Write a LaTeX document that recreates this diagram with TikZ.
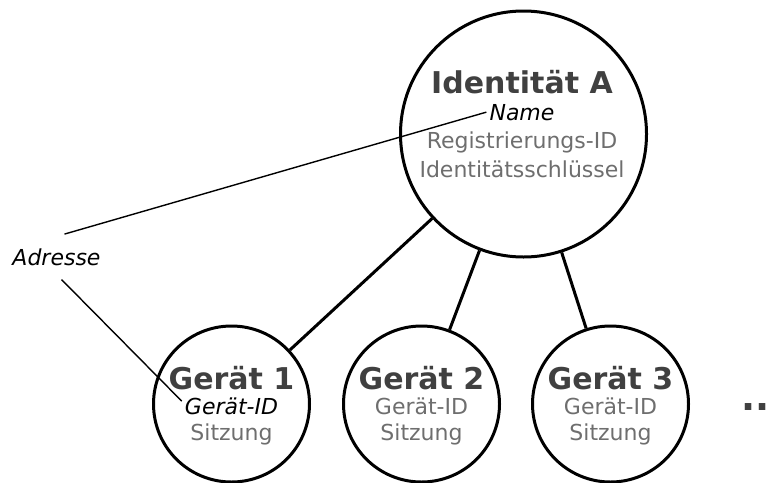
\documentclass[tikz,border=0pt]{standalone}
\usepackage{fontspec}
\setmainfont{DejaVu Sans}
\usetikzlibrary{calc}
\definecolor{titlegray}{HTML}{404040}
\definecolor{fieldgray}{HTML}{6E6E6E}
\begin{document}
\begin{tikzpicture}[x=1pt,y=-1pt,
  entity/.style={circle,draw=black,line width=3pt,inner sep=0pt,minimum size=#1},
  link/.style={line width=3pt},
  title/.style={anchor=base,inner sep=0pt,text=titlegray,font=\fontsize{30}{36}\selectfont\bfseries},
  field/.style={anchor=base,inner sep=0pt,text=fieldgray,font=\fontsize{22}{26}\selectfont},
  keyfield/.style={anchor=base,inner sep=3pt,text=black,font=\fontsize{22}{26}\selectfont\itshape},
  pointer/.style={line width=1.4pt}]
\useasboundingbox (0,0) rectangle (770,482);

% identity
\node[entity=246pt] (ida) at (523.5,134) {};
\node[title] (idaT) at (522,93) {Identität A};
\node[keyfield] (nm) at (522,120) {Name};
\node[field] (idaR) at (522,148) {Registrierungs-ID};
\node[field] (idaK) at (522,177) {Identitätsschlüssel};

% devices
\node[entity=156pt] (g1) at (231.5,404) {};
\node[entity=156pt] (g2) at (421.5,404) {};
\node[entity=156pt] (g3) at (610.5,404) {};

\node[title] (g1T) at (231.5,389) {Gerät 1};
\node[keyfield] (gid1) at (231.5,414) {Gerät-ID};
\node[field] (g1S) at (231.5,440) {Sitzung};

\node[title] (g2T) at (421.5,389) {Gerät 2};
\node[field] (gid2) at (421.5,414) {Gerät-ID};
\node[field] (g2S) at (421.5,440) {Sitzung};

\node[title] (g3T) at (610.5,389) {Gerät 3};
\node[field] (gid3) at (610.5,414) {Gerät-ID};
\node[field] (g3S) at (610.5,440) {Sitzung};

\node[anchor=base west,inner sep=0pt,text=titlegray,font=\fontsize{37}{40}\selectfont\bfseries] (more) at (741,410) {...};

% links identity -> devices
\draw[link] (ida) -- (g1);
\draw[link] (ida) -- (g2);
\draw[link] (ida) -- (g3);

% address = name + device id
\node[anchor=base,inner sep=14pt,font=\fontsize{22}{26}\selectfont\itshape] (adr) at (56.5,265) {Adresse};
\draw[pointer] ([xshift=8pt]adr.north) -- (nm.west);
\draw[pointer] ([xshift=5pt]adr.south) -- ($(gid1.north west)!0.3!(gid1.south west)$);
\end{tikzpicture}
\end{document}
